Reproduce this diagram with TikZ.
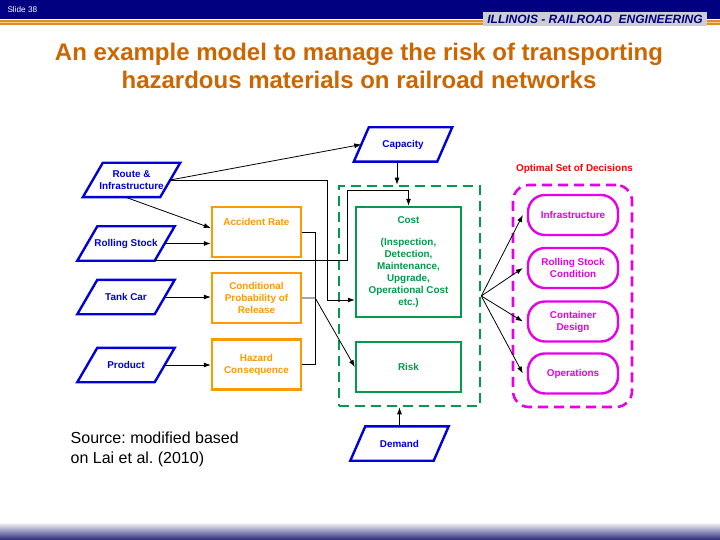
\documentclass[tikz,border=0pt]{standalone}
\usepackage{fontspec}
\setmainfont{Liberation Sans}
\frenchspacing
\usetikzlibrary{arrows.meta}
\definecolor{navy}{RGB}{0,0,128}
\definecolor{footnavy}{RGB}{40,40,120}
\definecolor{inblue}{RGB}{0,0,215}
\definecolor{midorange}{RGB}{255,153,0}
\definecolor{outgreen}{RGB}{0,155,75}
\definecolor{decmag}{RGB}{230,0,230}
\definecolor{titleorange}{RGB}{204,102,0}
\definecolor{stripe}{RGB}{226,140,40}
\definecolor{stripelight}{RGB}{244,205,130}
\definecolor{headgray}{RGB}{205,205,212}
\begin{document}
\begin{tikzpicture}[x=1pt,y=-1pt,
	txt/.style={font=\fontsize{9.9}{12}\selectfont\bfseries,align=center},
	inbox/.style={txt,text=inblue,minimum width=77pt,minimum height=34pt,inner sep=0pt,
		append after command={\pgfextra{\draw[inblue,line width=2.4pt] ([xshift=#1]\tikzlastnode.north west)--([xshift=#1]\tikzlastnode.north east)--([xshift=-#1]\tikzlastnode.south east)--([xshift=-#1]\tikzlastnode.south west)--cycle;}}},
	inbox/.default=10pt,
	midbox/.style={txt,draw=midorange,text=midorange,line width=2.4pt,minimum width=89pt,minimum height=50pt,inner sep=0pt},
	outbox/.style={txt,draw=outgreen,text=outgreen,line width=2.4pt,minimum width=105pt,inner sep=0pt},
	decbox/.style={txt,draw=decmag,text=decmag,line width=2.4pt,rounded corners=17pt,minimum width=90pt,minimum height=40pt,inner sep=0pt},
	grpbox/.style={line width=2.6pt,dash pattern=on 10pt off 6pt},
	arr/.style={-{Latex[length=7pt,width=5pt]},line width=0.8pt}
]
	\useasboundingbox (0,0) rectangle (720,540);
	\fill[white] (0,0) rectangle (720,540);
	\fill[navy] (0,0) rectangle (720,19);
	\fill[stripe] (0,20) rectangle (720,25);
	\fill[stripelight] (0,22) rectangle (720,23);
	\shade[top color=white,bottom color=footnavy] (0,522) rectangle (720,540);
	\node[text=white,font=\fontsize{8.2}{10}\selectfont,anchor=base west,inner sep=0pt,name=slideno] at (7.3,12.7) {Slide 38};
	\node[fill=headgray,text=navy,font=\fontsize{12}{14}\selectfont\bfseries\itshape,text height=8.7pt,text depth=0pt,inner xsep=4pt,inner ysep=2.5pt,name=brand] at (595,19.2) {ILLINOIS - RAILROAD\ \ ENGINEERING};
	\node[text=titleorange,font=\fontsize{24}{28.5}\selectfont\bfseries,align=center,anchor=north,inner sep=0pt,name=title] at (359,42.5) {An example model to manage the risk of transporting\\hazardous materials on railroad networks};

	\node[inbox,name=route] at (131.5,180) {Route \&\\Infrastructure};
	\foreach \n/\t/\y in {rolling/Rolling Stock/243.5,tank/Tank Car/297,product/Product/365}{
		\node[inbox,name=\n] at (126,\y) {\t};
	}
	\node[inbox=7.5pt,minimum width=83pt,name=capacity] at (403,144.5) {Capacity};
	\node[inbox=7.5pt,minimum width=83pt,name=demand] at (399.5,443.5) {Demand};

	\node[midbox,name=acc,text depth=20pt] at (256.5,232) {Accident Rate};
	\node[midbox,name=cond] at (256.5,298) {Conditional\\Probability of\\Release};
	\node[midbox,name=haz] at (256.5,364.5) {Hazard\\Consequence};

	\node[grpbox,draw=outgreen,name=gbox,minimum width=141pt,minimum height=220pt] at (409.5,296) {};
	\node[outbox,name=cost,minimum height=110pt] at (408.5,262) {Cost\\[10pt](Inspection,\\Detection,\\Maintenance,\\Upgrade,\\Operational Cost\\etc.)};
	\node[outbox,name=risk,minimum height=50pt] at (408.5,367) {Risk};

	\node[grpbox,draw=decmag,rounded corners=16pt,name=mbox,minimum width=119pt,minimum height=222pt] at (572.5,296) {};
	\node[txt,text=red,name=optlabel] at (574.5,169) {Optimal Set of Decisions};
	\foreach \n/\t/\y in {infra/Infrastructure/215,stock/Rolling Stock\\Condition/268,cont/Container\\Design/321.5,ops/Operations/373.5}{
		\node[decbox,name=\n] at (573,\y) {\t};
	}

	\draw[arr] (route.east)--(capacity.west);
	\draw[arr] (route.east)--++(157,0)|-([yshift=-38pt]cost.west);
	\draw[arr] ([xshift=-6pt]route.south)--([yshift=4pt]acc.west);
	\foreach \a/\b in {rolling/acc,tank/cond,product/haz}{
		\draw[arr] (\a.east)--(\a.east-|\b.west);
	}
	\draw[arr] ([xshift=-10pt]rolling.south east)--++(193,0)--++(0,-70)-|(cost.north);
	\draw[line width=0.8pt] (acc.east)--++(13,0)|-(haz.east);
	\draw[arr] (cond.east)--++(13,0)--(risk.west);
	\draw[arr] ([xshift=-6pt]capacity.south)--([xshift=-6pt]capacity.south|-gbox.north);
	\draw[arr] (demand.north)--(demand.north|-gbox.south);
	\foreach \n in {infra,stock,cont,ops}{
		\draw[arr] (gbox.east)--([xshift=-4pt]\n.west);
	}

	\node[font=\fontsize{16}{20}\selectfont,align=left,anchor=north west,inner sep=0pt,name=source] at (70.5,431.3) {Source: modified based\\on Lai et al. (2010)};
\end{tikzpicture}
\end{document}
